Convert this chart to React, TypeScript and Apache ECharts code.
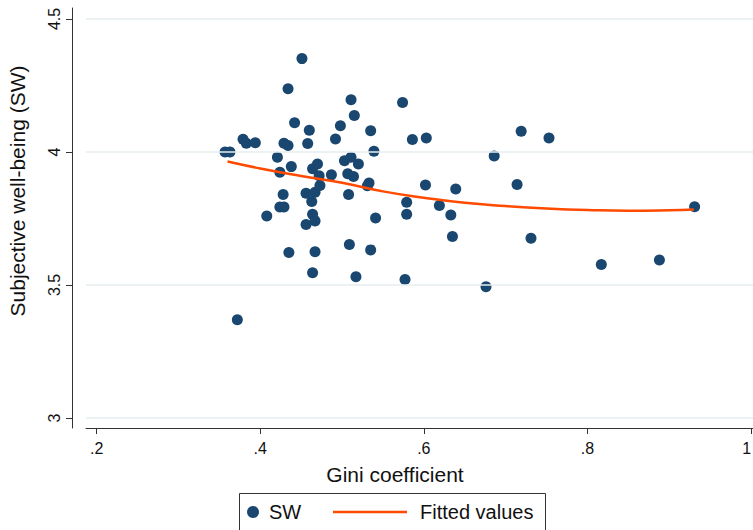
import React, { useEffect, useRef } from "react";
import * as echarts from "echarts";

const giniValues = [
  0.357, 0.363, 0.379, 0.383, 0.394, 0.372, 0.408, 0.421, 0.424, 0.429,
  0.434, 0.434, 0.428, 0.424, 0.429, 0.438, 0.435, 0.442, 0.451, 0.458,
  0.46, 0.456, 0.467, 0.464, 0.47, 0.472, 0.473, 0.463, 0.464, 0.467,
  0.456, 0.467, 0.464, 0.487, 0.498, 0.492, 0.503, 0.511, 0.52, 0.507,
  0.514, 0.511, 0.515, 0.508, 0.509, 0.517, 0.535, 0.539, 0.533, 0.531,
  0.541, 0.535, 0.574, 0.586, 0.603, 0.602, 0.579, 0.579, 0.577, 0.619,
  0.633, 0.639, 0.635, 0.676, 0.686, 0.714, 0.719, 0.731, 0.753, 0.817,
  0.888, 0.931,
];
const swValues = [
  4.0, 4.0, 4.048, 4.033, 4.035, 3.369, 3.759, 3.98, 3.924, 4.033,
  4.024, 4.238, 3.84, 3.793, 3.793, 3.945, 3.622, 4.11, 4.351, 4.032,
  4.082, 3.845, 3.849, 3.937, 3.955, 3.911, 3.874, 3.814, 3.766, 3.741,
  3.727, 3.625, 3.546, 3.914, 4.099, 4.049, 3.967, 3.98, 3.955, 3.918,
  3.908, 4.196, 4.137, 3.84, 3.652, 3.531, 4.08, 4.003, 3.883, 3.873,
  3.752, 3.632, 4.186, 4.047, 4.053, 3.876, 3.811, 3.766, 3.521, 3.799,
  3.763, 3.861, 3.682, 3.493, 3.985, 3.878, 4.078, 3.676, 4.053, 3.577,
  3.594, 3.794,
];
const fittedX = [0.36, 0.4, 0.45, 0.5, 0.55, 0.6, 0.65, 0.7, 0.75, 0.8, 0.85, 0.9, 0.93];
const fittedY = [3.964, 3.938, 3.91, 3.884, 3.852, 3.828, 3.809, 3.797, 3.788, 3.782, 3.779, 3.781, 3.784];
const xTicks = [0.2, 0.4, 0.6, 0.8, 1];
const yTicks = [3, 3.5, 4, 4.5];

const FONT = "'Liberation Sans', Arial, Helvetica, sans-serif";
const fmt = (v: number) => String(Math.round(v * 1000) / 1000).replace(/^0\./, ".");

export default function App() {
  const ref = useRef<HTMLDivElement>(null);
  useEffect(() => {
    document.body.style.margin = "0";
    const chart = echarts.init(ref.current!, null, { renderer: "svg" });
    const axisColor = "#333";
    chart.setOption({
      animation: false,
      textStyle: { fontFamily: FONT },
      grid: { left: 86, right: 0, top: 8, height: 420, containLabel: false, outerBoundsMode: "none" },
      xAxis: {
        type: "value",
        min: 0.187,
        max: 1.0024,
        axisLine: { show: true, lineStyle: { color: axisColor, width: 1 } },
        axisTick: { show: true, length: 6, customValues: xTicks, lineStyle: { color: axisColor } },
        axisLabel: {
          customValues: xTicks,
          formatter: fmt,
          fontSize: 16,
          color: "#111",
          margin: 12,
          fontFamily: FONT,
          alignMaxLabel: "right",
        },
        splitLine: { show: false },
      },
      yAxis: {
        type: "value",
        min: 2.9624,
        max: 4.5413,
        offset: 14,
        axisLine: { show: true, lineStyle: { color: axisColor, width: 1 } },
        axisTick: { show: true, length: 6, customValues: yTicks, lineStyle: { color: axisColor } },
        axisLabel: { customValues: yTicks, formatter: fmt, rotate: 90, fontSize: 16, color: "#111", margin: 10, fontFamily: FONT },
        splitLine: { show: false },
      },
      legend: [
        {
          data: [{ name: "SW", icon: "circle" }],
          left: 247,
          top: 502,
          padding: 0,
          itemWidth: 12,
          itemHeight: 12,
          textStyle: { fontSize: 20, color: "#111", fontFamily: FONT, padding: [0, 0, 0, 5] },
        },
        {
          data: [{ name: "Fitted values", icon: "rect" }],
          left: 333,
          top: 502,
          padding: 0,
          itemWidth: 74,
          itemHeight: 2.5,
          textStyle: { fontSize: 20, color: "#111", fontFamily: FONT, padding: [0, 0, 0, 8] },
        },
      ],
      graphic: [
        {
          type: "rect",
          shape: { x: 239.5, y: 493.5, width: 306, height: 60 },
          style: { fill: "none", stroke: "#333", lineWidth: 1 },
          silent: true,
        },
        {
          type: "text",
          x: 17,
          y: 191,
          rotation: Math.PI / 2,
          style: {
            text: "Subjective well-being (SW)",
            font: `21px ${FONT}`,
            fill: "#111",
            align: "center",
            verticalAlign: "middle",
            textAlign: "center",
            textVerticalAlign: "middle",
          },
        },
        {
          type: "text",
          x: 395,
          y: 474,
          style: {
            text: "Gini coefficient",
            font: `21px ${FONT}`,
            fill: "#111",
            align: "center",
            verticalAlign: "middle",
            textAlign: "center",
            textVerticalAlign: "middle",
          },
        },
      ],
      series: [
        {
          type: "line",
          data: [],
          z: 1,
          silent: true,
          markLine: {
            silent: true,
            symbol: "none",
            label: { show: false },
            lineStyle: { color: "#e6eef0", width: 1.5, type: "solid" },
            data: yTicks.map((v) => ({ yAxis: v })),
          },
        },
        {
          name: "SW",
          type: "scatter",
          z: 3,
          symbol: "circle",
          symbolSize: 11,
          itemStyle: { color: "#1a476f", opacity: 1 },
          data: giniValues.map((x, i) => [x, swValues[i]]),
        },
        {
          name: "Fitted values",
          type: "line",
          z: 4,
          smooth: true,
          showSymbol: false,
          symbol: "none",
          lineStyle: { color: "#ff4a00", width: 2.5 },
          itemStyle: { color: "#ff4a00" },
          data: fittedX.map((x, i) => [x, fittedY[i]]),
        },
      ],
    });
    return () => chart.dispose();
  }, []);
  return <div ref={ref} style={{ width: 753, height: 530 }} />;
}
